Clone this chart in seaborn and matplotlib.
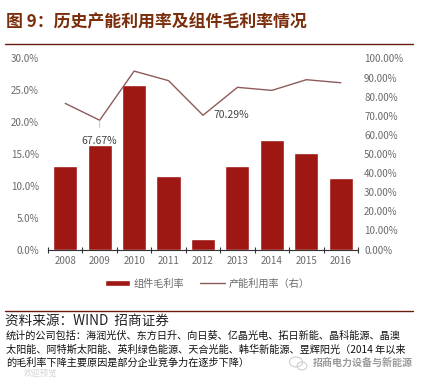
import matplotlib.pyplot as plt
import matplotlib.ticker as mticker
import seaborn as sns
from matplotlib.patches import Ellipse

years = ["2008", "2009", "2010", "2011", "2012", "2013", "2014", "2015", "2016"]
gross_margin = [13.1, 16.4, 25.8, 11.6, 1.6, 13.1, 17.2, 15.1, 11.3]
utilization = [76.5, 67.67, 93.4, 88.4, 70.29, 84.9, 83.3, 88.9, 87.3]
left_ticks = [0, 5, 10, 15, 20, 25, 30]
right_ticks = [0, 10, 20, 30, 40, 50, 60, 70, 80, 90, 100]

title = "图 9：历史产能利用率及组件毛利率情况"
source = "资料来源：WIND  招商证券"
notes = [
    "统计的公司包括：海润光伏、东方日升、向日葵、亿晶光电、拓日新能、晶科能源、晶澳",
    "太阳能、阿特斯太阳能、英利绿色能源、天合光能、韩华新能源、昱辉阳光（2014 年以来",
    "的毛利率下降主要原因是部分企业竞争力在逐步下降）",
]

W, H = 426, 382
BAR_RED = "#9e1713"
LINE_RED = "#8f5a5a"
BROWN = "#7a2e0c"
GREY = "#6a6a6a"

sns.set_theme(style="white")
plt.rcParams["font.family"] = ["Noto Sans CJK SC", "DejaVu Sans"]

fig = plt.figure(figsize=(W / 100, H / 100), dpi=100)
ax = fig.add_axes([48 / W, 1 - 249.5 / H, 310 / W, 191 / H])

sns.barplot(x=years, y=gross_margin, color=BAR_RED, saturation=1, width=0.7,
            ax=ax, label="组件毛利率", legend=False)
ax.set_ylim(0, 30)
ax.set_xlim(-0.5, 8.5)
ax.set_yticks(left_ticks)
ax.yaxis.set_major_formatter(mticker.FormatStrFormatter("%.1f%%"))
ax.tick_params(axis="y", length=0, labelsize=7, colors=GREY, pad=6.5)
ax.tick_params(axis="x", which="major", length=0, labelsize=7, colors=GREY, pad=5)
ax.xaxis.set_minor_locator(mticker.MultipleLocator(1, offset=0.5))
ax.tick_params(axis="x", which="minor", length=4, width=0.8, direction="inout",
               color="#333333", bottom=True)
for side in ["top", "left", "right"]:
    ax.spines[side].set_visible(False)
ax.spines["bottom"].set_color("#333333")
ax.spines["bottom"].set_linewidth(0.8)
ax.set_xlabel("")
ax.set_ylabel("")

ax2 = ax.twinx()
sns.lineplot(x=years, y=utilization, color=LINE_RED, linewidth=1, ax=ax2,
             label="产能利用率（右）", legend=False)
ax2.set_ylim(0, 100)
ax2.set_yticks(right_ticks)
ax2.yaxis.set_major_formatter(mticker.FormatStrFormatter("%.2f%%"))
ax2.tick_params(axis="y", length=0, labelsize=7, colors=GREY, pad=4.4)
for side in ["top", "left", "right", "bottom"]:
    ax2.spines[side].set_visible(False)
ax2.set_xlabel("")
ax2.set_ylabel("")

# the two labelled points
ax2.annotate(f"{utilization[1]:.2f}%", xy=(1, utilization[1]), xytext=(1, 54),
             ha="center", va="bottom", fontsize=7.5, color="#444444",
             arrowprops=dict(arrowstyle="-", color="#bbbbbb", lw=0.6, shrinkA=4, shrinkB=0))
ax2.annotate(f"{utilization[4]:.2f}%", xy=(4, utilization[4]), xytext=(4.3, 70.3),
             ha="left", va="center", fontsize=7.5, color="#444444")

h1, l1 = ax.get_legend_handles_labels()
h2, l2 = ax2.get_legend_handles_labels()
fig.legend(h1 + h2, l1 + l2, ncol=2, frameon=False, loc="center",
           bbox_to_anchor=(207 / W, 1 - 283.5 / H), fontsize=7.3, labelcolor=GREY,
           handlelength=2.5, handleheight=0.5, handletextpad=0.3, columnspacing=1.6)

fig.text(6 / W, 1 - 22 / H, title, fontsize=12.2, fontweight="bold", color=BROWN,
         va="center", ha="left")
fig.add_artist(plt.Line2D([5 / W, 413 / W], [1 - 44 / H] * 2, color="#6b1c10", lw=1))
fig.add_artist(plt.Line2D([5 / W, 413 / W], [1 - 310.5 / H] * 2, color="#6b1c10", lw=1))
fig.text(5 / W, 1 - 321 / H, source, fontsize=9.8, color="#222222", va="center", ha="left")
for note, y in zip(notes, [336, 349.5, 362.5]):
    fig.text(6 / W, 1 - y / H, note, fontsize=7.3, color="#111111", va="center", ha="left")

# watermark
fig.text(413 / W, 1 - 363 / H, "招商电力设备与新能源", fontsize=7.2, color="#9a9a9a",
         va="center", ha="right", fontweight="bold")
fig.text(24 / W, 1 - 373 / H, "欢迎预览", fontsize=6, color="#d4d4d4", va="center", ha="left")
for cx, cy, ew, eh in [(296, 362, 13, 10), (302, 366, 10, 8)]:
    fig.add_artist(Ellipse((cx / W, 1 - cy / H), ew / W, eh / H, fill=False,
                           edgecolor="#c8c8c8", lw=0.7, transform=fig.transFigure))

fig.savefig("out.png", dpi=100)
